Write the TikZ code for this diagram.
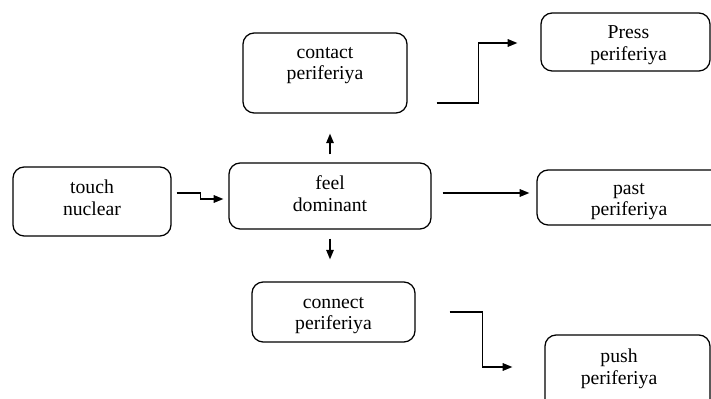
\documentclass[tikz,border=0pt]{standalone}
\usepackage{fontspec}
\setmainfont{Liberation Serif}
\usetikzlibrary{arrows.meta,calc}

\begin{document}
\begin{tikzpicture}[x=0.025cm, y=-0.025cm, line width=0.9pt,
  box/.style={draw, rounded corners=8pt, inner sep=0pt},
  lbl/.style={anchor=north, align=center, inner sep=0pt, font=\fontsize{14}{15.5}\selectfont},
  arr/.style={-{Triangle[length=2.4mm,width=1.9mm]}}]
  \useasboundingbox (0,0) rectangle (711,399);

  % blocks
  \node[box, minimum width=3.95cm, minimum height=1.725cm] (touch) at (92,201.5) {};
  \node[box, minimum width=5.05cm, minimum height=1.65cm] (feel) at (330,196) {};
  \node[box, minimum width=4.1cm, minimum height=2cm] (contact) at (325,73) {};
  \node[box, minimum width=4.075cm, minimum height=1.5cm] (connect) at (333.5,312) {};
  \node[box, minimum width=4.225cm, minimum height=1.45cm] (press) at (625.5,42) {};
  \node[box, minimum width=5cm, minimum height=1.375cm] (past) at (637,197.5) {};
  \node[box, minimum width=4.125cm, minimum height=2.25cm] (push) at (627.5,380) {};

  % texts
  \node[lbl] (touchT) at ($(touch.north)+(0,13)$) {touch\\nuclear};
  \node[lbl] (feelT) at ($(feel.north)+(0,13)$) {feel\\dominant};
  \node[lbl] (contactT) at ($(contact.north)+(0,14)$) {contact\\periferiya};
  \node[lbl] (connectT) at ($(connect.north)+(0,15)$) {connect\\periferiya};
  \node[lbl] (pressT) at ($(press.north)+(3,13)$) {Press\\periferiya};
  \node[lbl] (pastT) at ($(past.north)+(-8,13)$) {past\\periferiya};
  \node[lbl] (pushT) at ($(push.north)+(-8.5,14)$) {push\\periferiya};

  % connectors
  \draw[arr] ($(touch.east)+(5,-8.5)$) -- ++(24,0) |- ($(feel.west)+(-5,3)$);
  \draw[arr] ($(feel.north)+(0,-8)$) -- ($(contact.south)+(5,20)$);
  \draw[arr] ($(feel.south)+(0,9)$) -- ($(connect.north)+(-3.5,-22)$);
  \draw[arr] ($(feel.east)+(11,-3)$) -- ($(past.west)+(-7,-4.5)$);
  \draw[arr] ($(contact.east)+(29,30)$) -- ++(42,0) |- ($(press.west)+(-23,1)$);
  \draw[arr] ($(connect.east)+(34,0)$) -- ++(33,0) |- ($(push.west)+(-32,-13)$);
\end{tikzpicture}
\end{document}
